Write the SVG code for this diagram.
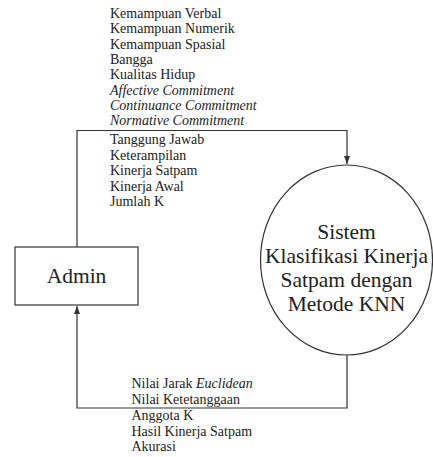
<svg xmlns="http://www.w3.org/2000/svg" width="433" height="457" viewBox="0 0 433 457">
  <style>
    .lbl { font-family: "Liberation Serif", "Times New Roman", serif; font-size: 14px; fill: #222; }
    .it { font-style: italic; }
    .big { font-family: "Liberation Serif", "Times New Roman", serif; font-size: 21.5px; fill: #222; text-anchor: middle; }
    .shape { fill: #fff; stroke: #333; stroke-width: 1.2; }
    .flow { fill: none; stroke: #333; stroke-width: 1.2; }
  </style>
  <defs>
    <marker id="arrow" viewBox="0 0 8 8" refX="8" refY="4" markerWidth="8" markerHeight="8" markerUnits="userSpaceOnUse" orient="auto">
      <path d="M0,1 L8,4 L0,7 Z" fill="#333"/>
    </marker>
  </defs>

  <!-- data flows -->
  <g id="connectors">
    <polyline class="flow" points="77,247 77,130.5 347,130.5 347,164" marker-end="url(#arrow)"/>
    <polyline class="flow" points="347,355 347,408 77,408 77,306" marker-end="url(#arrow)"/>
  </g>

  <!-- external entity -->
  <g id="admin">
    <rect class="shape" x="15" y="247" width="123" height="58"/>
    <text class="big" x="76.5" y="283">Admin</text>
  </g>

  <!-- process -->
  <g id="process">
    <ellipse class="shape" cx="346.5" cy="260" rx="86" ry="95"/>
    <text class="big" x="346.5" y="239">Sistem</text>
    <text class="big" x="346.5" y="263">Klasifikasi Kinerja</text>
    <text class="big" x="346.5" y="287">Satpam dengan</text>
    <text class="big" x="346.5" y="311">Metode KNN</text>
  </g>

  <!-- input flow labels -->
  <g id="input-labels">
    <text class="lbl" x="110" y="18">Kemampuan Verbal</text>
    <text class="lbl" x="110" y="33.3">Kemampuan Numerik</text>
    <text class="lbl" x="110" y="48.6">Kemampuan Spasial</text>
    <text class="lbl" x="110" y="63.9">Bangga</text>
    <text class="lbl" x="110" y="79.2">Kualitas Hidup</text>
    <text class="lbl it" x="110" y="94.5">Affective Commitment</text>
    <text class="lbl it" x="110" y="109.8">Continuance Commitment</text>
    <text class="lbl it" x="110" y="125.1">Normative Commitment</text>
    <text class="lbl" x="110" y="144">Tanggung Jawab</text>
    <text class="lbl" x="110" y="159.5">Keterampilan</text>
    <text class="lbl" x="110" y="175">Kinerja Satpam</text>
    <text class="lbl" x="110" y="190.5">Kinerja Awal</text>
    <text class="lbl" x="110" y="206">Jumlah K</text>
  </g>

  <!-- output flow labels -->
  <g id="output-labels">
    <text class="lbl" x="131.5" y="388">Nilai Jarak <tspan class="it">Euclidean</tspan></text>
    <text class="lbl" x="131.5" y="403.5">Nilai Ketetanggaan</text>
    <text class="lbl" x="131.5" y="420">Anggota K</text>
    <text class="lbl" x="131.5" y="435.5">Hasil Kinerja Satpam</text>
    <text class="lbl" x="131.5" y="451">Akurasi</text>
  </g>
</svg>
